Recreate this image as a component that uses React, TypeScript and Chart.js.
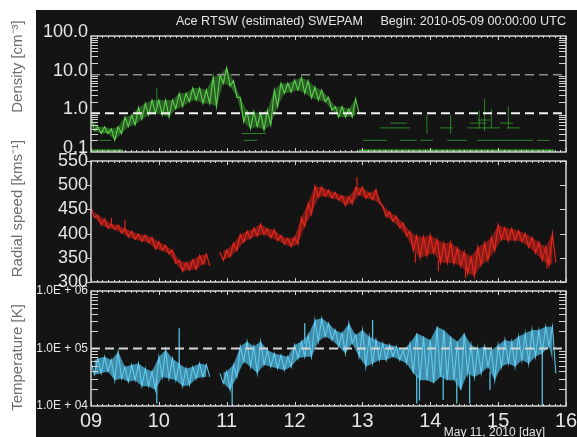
import React, { useEffect, useRef } from "react";
import { Chart, registerables } from "chart.js";

Chart.register(...registerables);

// ---------- data ----------
const DAY_START = 9;
const DAY_END = 16;
const SAMPLE_START = 9.0; // day of the first sample
const SAMPLE_STEP = 0.1; // days between samples (upper envelope at t, lower at t + step/2)

const dayTicks = [9, 10, 11, 12, 13, 14, 15, 16];
const dayTickLabels = ["09", "10", "11", "12", "13", "14", "15", "16"];

// ---- density (cm^-3)
const densityTicks = [0.1, 1, 10, 100];
const densityTickLabels = ["0.1", "1.0", "10.0", "100.0"];
const densityRefHigh = 10;
const densityRefLow = 1;
const densityHigh = [
  0.9, 0.45, 0.45, 0.4, 0.45, 0.8, 0.9, 1.4, 1.8, 2.2,
  2.2, 2.2, 2.2, 3.3, 3.3, 4.5, 4.5, 4.0, 8.7, 10,
  15, 7, 2.6, 1.1, 1.1, 1.0, 1.2, 4.0, 6.0, 6.0,
  7.2, 8.5, 7.0, 4.8, 4.0, 2.6, 1.5, 1.5, 1.3, 2.4,
];
const densityLow = [
  0.35, 0.3, 0.3, 0.2, 0.3, 0.45, 0.5, 0.7, 0.9, 1.0,
  0.9, 0.8, 1.3, 1.5, 2.0, 2.2, 1.8, 1.8, 1.5, 6,
  5, 2.6, 0.6, 0.4, 0.45, 0.37, 0.5, 1.5, 3.3, 3.5,
  4.0, 3.3, 2.5, 2.2, 2.0, 1.2, 0.8, 0.8, 0.8, 1.0,
];
// lowest-level readings (instrument floor)
const densityFloor: number[][] = [
  [9.0, 0.11, 9.47, 0.11],
  [12.95, 0.11, 15.82, 0.11],
];
// isolated readings / quantised low-density levels: [dayFrom, valueFrom, dayTo, valueTo]
const densitySegments: number[][] = [
  [9.12, 0.2, 9.3, 0.2],
  [9.15, 0.33, 9.45, 0.33],
  [11.22, 0.3, 11.58, 0.3],
  [11.25, 0.2, 11.45, 0.2],
  [13.01, 0.2, 13.36, 0.2],
  [13.55, 0.2, 13.8, 0.2],
  [13.85, 0.2, 14.04, 0.2],
  [14.25, 0.2, 14.54, 0.2],
  [14.69, 0.2, 15.51, 0.2],
  [15.57, 0.2, 15.76, 0.2],
  [13.26, 0.42, 13.7, 0.42],
  [14.14, 0.42, 14.33, 0.42],
  [14.54, 0.42, 15.03, 0.42],
  [15.13, 0.42, 15.32, 0.42],
  [13.41, 0.56, 13.66, 0.56],
  [14.58, 0.56, 14.83, 0.56],
  [15.03, 0.56, 15.22, 0.56],
  [14.7, 0.67, 14.88, 0.67],
  [13.95, 0.3, 13.95, 0.9],
  [14.3, 0.3, 14.3, 0.9],
  [14.72, 0.4, 14.72, 1.2],
  [14.8, 0.35, 14.8, 2.4],
  [14.9, 0.4, 14.9, 1.3],
  [15.15, 0.4, 15.15, 1.5],
  [9.97, 1.5, 9.97, 4.5],
];

// ---- radial speed (km/s)
const speedTicks = [300, 350, 400, 450, 500, 550];
const speedHigh = [
  455, 438, 430, 420, 418, 410, 405, 399, 397, 392,
  383, 376, 366, 345, 340, 346, 355, 358, null, 362,
  366, 380, 398, 405, 411, 420, 410, 408, 396, 390,
  393, 433, 463, 498, 496, 490, 485, 478, 476, 495,
  496, 484, 491, 458, 445, 436, 422, 405, 395, 393,
  397, 388, 380, 382, 370, 362, 352, 372, 380, 392,
  418, 412, 410, 406, 400, 392, 382, 372, 400,
];
const speedLow = [
  433, 418, 411, 408, 401, 393, 388, 384, 381, 368,
  365, 358, 338, 322, 325, 326, 337, 333, null, 345,
  352, 365, 382, 390, 395, 398, 391, 386, 378, 373,
  378, 415, 440, 475, 477, 473, 469, 458, 462, 480,
  473, 470, 463, 435, 425, 412, 395, 365, 350, 355,
  360, 340, 340, 338, 333, 318, 312, 335, 345, 365,
  388, 385, 386, 383, 372, 360, 345, 335, 340,
];
// single outlying readings: [day, from, to]
const speedSpikes: number[][] = [
  [9.3, 418, 433],
  [9.5, 405, 428],
  [12.92, 490, 517],
  [13.78, 360, 340],
  [14.12, 345, 322],
  [14.52, 330, 308],
  [15.72, 350, 328],
];

// ---- temperature (K)
const tempTicks = [1e4, 1e5, 1e6];
const tempTickLabels = ["1.0E + 04", "1.0E + 05", "1.0E + 06"];
const tempRef = 1e5;
const tempHigh = [
  59000, 67000, 72000, 63000, 88000, 48000, 52000, 55000, 45000, 40000,
  72000, 94000, 67000, 55000, 45000, 48000, 55000, 52000, null, 37000,
  40000, 52000, 108000, 132000, 108000, 132000, 94000, 82000, 77000, 72000,
  115000, 132000, 172000, 313000, 335000, 274000, 210000, 184000, 274000, 172000,
  210000, 161000, 141000, 123000, 115000, 108000, 94000, 123000, 184000, 161000,
  141000, 240000, 210000, 161000, 132000, 184000, 115000, 101000, 108000, 94000,
  115000, 141000, 132000, 161000, 184000, 210000, 210000, 240000, 240000,
];
const tempLow = [
  35000, 37000, 40000, 28000, 30000, 26500, 28000, 22000, 22000, 19000,
  32000, 30000, 28000, 22000, 23000, 30000, 32000, 32000, null, 25000,
  19000, 32000, 59000, 48000, 37000, 52000, 48000, 45000, 42000, 48000,
  67000, 72000, 72000, 132000, 161000, 141000, 108000, 82000, 123000, 72000,
  48000, 55000, 63000, 63000, 72000, 63000, 55000, 37000, 28000, 28000,
  25000, 32000, 28000, 28000, 19000, 37000, 32000, 37000, 48000, 28000,
  48000, 55000, 48000, 63000, 55000, 72000, 82000, 108000, 37000,
];
const tempSpikes: number[][] = [
  [9.97, 30000, 11100],
  [10.3, 50000, 224000],
  [11.08, 30000, 10300],
  [12.15, 120000, 274000],
  [13.15, 130000, 313000],
  [13.8, 35000, 11100],
  [13.84, 35000, 12500],
  [14.19, 35000, 12700],
  [14.39, 30000, 11100],
  [14.58, 40000, 11100],
  [14.88, 40000, 19000],
  [15.65, 90000, 10400],
];

const HEADER = "Ace RTSW (estimated) SWEPAM     Begin: 2010-05-09 00:00:00 UTC";
const DENSITY_TITLE = "Density [cm\u207B\u00B3]";
const SPEED_TITLE = "Radial speed [kms\u207B\u00B9]";
const TEMP_TITLE = "Temperature [K]";
const X_TITLE = "May 11, 2010 [day]";

// ---------- styling ----------
const FONT = '"Liberation Sans", Arial, Helvetica, sans-serif';
const TEXT = "#e6e6e6";
const FRAME = "#d4d4d4";

const highPoints = (vals: (number | null)[]) =>
  vals.map((v, i) => ({ x: SAMPLE_START + i * SAMPLE_STEP, y: v }));
const lowPoints = (vals: (number | null)[]) =>
  vals.map((v, i) => ({ x: SAMPLE_START + (i + 0.5) * SAMPLE_STEP, y: v }));
const zigzag = (hi: (number | null)[], lo: (number | null)[]) => {
  const h = highPoints(hi);
  const l = lowPoints(lo);
  const out: { x: number; y: number | null }[] = [];
  h.forEach((p, i) => {
    out.push(p);
    if (l[i]) out.push(l[i]);
  });
  return out;
};
const segPoints = (segs: number[][]) => {
  const out: { x: number; y: number | null }[] = [];
  segs.forEach((s) => {
    out.push({ x: s[0], y: s[1] }, { x: s[2], y: s[3] }, { x: s[2], y: null });
  });
  return out;
};
const spikePoints = (spikes: number[][]) =>
  segPoints(spikes.map((s) => [s[0], s[1], s[0], s[2]]));

const refLine = (v: number, color: string, width: number) => ({
  data: [
    { x: DAY_START, y: v },
    { x: DAY_END, y: v },
  ],
  borderColor: color,
  borderWidth: width,
  borderDash: [9, 5],
  pointRadius: 0,
});

const bandDatasets = (
  hi: (number | null)[],
  lo: (number | null)[],
  line: string,
  fillColor: string,
  width: number
) => [
  { data: zigzag(hi, lo), borderColor: line, borderWidth: width, spanGaps: false },
  { data: highPoints(hi), borderColor: "transparent", borderWidth: 1, spanGaps: false },
  {
    data: lowPoints(lo),
    borderColor: "transparent",
    borderWidth: 1,
    spanGaps: false,
    fill: "-1",
    backgroundColor: fillColor,
  },
];

const framePlugin = {
  id: "panelFrame",
  afterDatasetsDraw(chart: any, _args: any, opts: any) {
    const { ctx, chartArea: a, scales } = chart;
    const xs = scales.x;
    const ys = scales.y;
    ctx.save();
    ctx.strokeStyle = FRAME;
    ctx.lineWidth = 1;
    ctx.beginPath();
    const n = (DAY_END - DAY_START) * 12;
    for (let k = 0; k <= n; k++) {
      const px = Math.round(xs.getPixelForValue(DAY_START + k / 12)) + 0.5;
      const len = k % 12 === 0 ? 4 : 2;
      ctx.moveTo(px, a.top);
      ctx.lineTo(px, a.top + len);
      ctx.moveTo(px, a.bottom);
      ctx.lineTo(px, a.bottom - len);
    }
    if (opts.log) {
      const d0 = Math.round(Math.log10(ys.min));
      const d1 = Math.round(Math.log10(ys.max));
      for (let d = d0; d < d1; d++) {
        for (let m = 2; m <= 9; m++) {
          const py = Math.round(ys.getPixelForValue(m * Math.pow(10, d))) + 0.5;
          ctx.moveTo(a.left, py);
          ctx.lineTo(a.left + 7, py);
          ctx.moveTo(a.right, py);
          ctx.lineTo(a.right - 7, py);
        }
      }
    } else {
      ys.ticks.forEach((t: any) => {
        const py = Math.round(ys.getPixelForValue(t.value)) + 0.5;
        ctx.moveTo(a.left - 5, py);
        ctx.lineTo(a.left, py);
        ctx.moveTo(a.right, py);
        ctx.lineTo(a.right - 6, py);
      });
    }
    ctx.stroke();
    ctx.lineWidth = 1.5;
    ctx.strokeRect(a.left, a.top, a.right - a.left, a.bottom - a.top);
    ctx.restore();
  },
  afterDraw(chart: any, _args: any, opts: any) {
    const { ctx, chartArea: a } = chart;
    ctx.save();
    ctx.translate(18, (a.top + a.bottom) / 2 + (opts.titleDy || 0));
    ctx.rotate(-Math.PI / 2);
    ctx.textAlign = "center";
    ctx.textBaseline = "middle";
    ctx.font = `15px ${FONT}`;
    ctx.fillStyle = "#6e6e6e";
    ctx.fillText(opts.title, 0, 0);
    ctx.restore();
    if (opts.footer) {
      ctx.save();
      ctx.textAlign = "right";
      ctx.textBaseline = "middle";
      ctx.font = `12px ${FONT}`;
      ctx.fillStyle = TEXT;
      ctx.fillText(opts.footer, 545, a.bottom + 27);
      ctx.restore();
    }
  },
};

const xScale = (display: boolean) => ({
  type: "linear",
  min: DAY_START,
  max: DAY_END,
  display,
  grid: { display: false, drawTicks: false },
  border: { display: false },
  afterBuildTicks: (s: any) => {
    s.ticks = dayTicks.map((v) => ({ value: v }));
  },
  afterFit: (s: any) => {
    if (display) s.height = 31;
    s.paddingLeft = 0;
    s.paddingRight = 0;
  },
  ticks: {
    color: TEXT,
    font: { size: 20, family: FONT },
    padding: 3,
    autoSkip: false,
    maxRotation: 0,
    minRotation: 0,
    callback: (_v: any, i: number) => dayTickLabels[i],
  },
});

const yFit = (s: any) => {
  s.width = 91;
  s.paddingTop = 0;
  s.paddingBottom = 0;
};

const common = (padding: any, plug: any, extraPlugins: any = {}) => ({
  responsive: false,
  maintainAspectRatio: false,
  animation: false,
  devicePixelRatio: 1,
  layout: { padding },
  elements: { point: { radius: 0 }, line: { tension: 0 } },
  plugins: {
    legend: { display: false },
    tooltip: { enabled: false },
    panelFrame: plug,
    ...extraPlugins,
  },
});

function densityConfig(): any {
  return {
    type: "line",
    data: {
      datasets: [
        refLine(densityRefLow, "#f2f2f2", 2),
        refLine(densityRefHigh, "#8e8e8e", 1.5),
        ...bandDatasets(densityHigh, densityLow, "rgba(96,214,80,0.95)", "rgba(70,180,60,0.45)", 1.1),
        {
          data: segPoints(densitySegments),
          borderColor: "rgba(52,150,46,0.85)",
          borderWidth: 1,
          spanGaps: false,
        },
        {
          data: segPoints(densityFloor),
          borderColor: "#3fae36",
          borderWidth: 2,
          spanGaps: false,
        },
      ],
    },
    options: {
      ...common(
        { left: 0, right: 11, top: 12, bottom: 8 },
        { log: true, title: DENSITY_TITLE, titleDy: -27.5 },
        {
          title: {
            display: true,
            text: HEADER,
            align: "end",
            color: TEXT,
            font: { size: 12.6, weight: "normal", family: FONT },
            padding: { top: 2, bottom: 6.9 },
          },
        }
      ),
      scales: {
        x: xScale(false),
        y: {
          type: "logarithmic",
          min: 0.1,
          max: 100,
          grid: { display: false, drawTicks: false },
          border: { display: false },
          afterBuildTicks: (s: any) => {
            s.ticks = densityTicks.map((v) => ({ value: v }));
          },
          afterFit: yFit,
          ticks: {
            color: TEXT,
            font: { size: 18, family: FONT },
            padding: 3,
            labelOffset: -4,
            autoSkip: false,
            callback: (_v: any, i: number) => densityTickLabels[i],
          },
        },
      },
    },
    plugins: [framePlugin],
  };
}

function speedConfig(): any {
  return {
    type: "line",
    data: {
      datasets: [
        ...bandDatasets(speedHigh, speedLow, "rgba(236,40,30,0.95)", "rgba(215,35,28,0.55)", 1.2),
        {
          data: spikePoints(speedSpikes),
          borderColor: "rgba(236,40,30,0.9)",
          borderWidth: 1.2,
          spanGaps: false,
        },
      ],
    },
    options: {
      ...common(
        { left: 0, right: 11, top: 21, bottom: 28 },
        { log: false, title: SPEED_TITLE, titleDy: -13 }
      ),
      scales: {
        x: xScale(false),
        y: {
          type: "linear",
          min: 300,
          max: 550,
          grid: { display: false, drawTicks: false },
          border: { display: false },
          afterBuildTicks: (s: any) => {
            s.ticks = speedTicks.map((v) => ({ value: v }));
          },
          afterFit: yFit,
          ticks: {
            color: TEXT,
            font: { size: 18, family: FONT },
            padding: 3,
            autoSkip: false,
          },
        },
      },
    },
    plugins: [framePlugin],
  };
}

function tempConfig(): any {
  return {
    type: "line",
    data: {
      datasets: [
        refLine(tempRef, "#d6d6d6", 2),
        ...bandDatasets(tempHigh, tempLow, "rgba(100,206,242,0.95)", "rgba(80,188,228,0.72)", 1.1),
        {
          data: spikePoints(tempSpikes),
          borderColor: "rgba(92,200,238,0.95)",
          borderWidth: 1.3,
          spanGaps: false,
        },
      ],
    },
    options: {
      ...common(
        { left: 0, right: 11, top: 21, bottom: 0 },
        { log: true, title: TEMP_TITLE, titleDy: 9, footer: X_TITLE }
      ),
      scales: {
        x: xScale(true),
        y: {
          type: "logarithmic",
          min: 1e4,
          max: 1e6,
          grid: { display: false, drawTicks: false },
          border: { display: false },
          afterBuildTicks: (s: any) => {
            s.ticks = tempTicks.map((v) => ({ value: v }));
          },
          afterFit: yFit,
          ticks: {
            color: TEXT,
            font: { size: 12, family: FONT },
            padding: 3,
            autoSkip: false,
            callback: (_v: any, i: number) => tempTickLabels[i],
          },
        },
      },
    },
    plugins: [framePlugin],
  };
}

const canvasStyle = (top: number, height: number): React.CSSProperties => ({
  position: "absolute",
  left: 0,
  top,
  width: 577,
  height,
});

export default function App() {
  const r1 = useRef<HTMLCanvasElement>(null);
  const r2 = useRef<HTMLCanvasElement>(null);
  const r3 = useRef<HTMLCanvasElement>(null);

  useEffect(() => {
    const charts = [
      new Chart(r1.current as HTMLCanvasElement, densityConfig()),
      new Chart(r2.current as HTMLCanvasElement, speedConfig()),
      new Chart(r3.current as HTMLCanvasElement, tempConfig()),
    ];
    return () => charts.forEach((c) => c.destroy());
  }, []);

  return (
    <div
      style={{
        position: "absolute",
        left: 0,
        top: 0,
        width: 577,
        height: 437,
        background: "#ffffff",
        overflow: "hidden",
      }}
    >
      <div
        style={{
          position: "absolute",
          left: 36,
          top: 10,
          right: 0,
          bottom: 0,
          background: "#141414",
        }}
      />
      <canvas ref={r1} width={577} height={160} style={canvasStyle(0, 160)} />
      <canvas ref={r2} width={577} height={170} style={canvasStyle(140, 170)} />
      <canvas ref={r3} width={577} height={167} style={canvasStyle(270, 167)} />
    </div>
  );
}
